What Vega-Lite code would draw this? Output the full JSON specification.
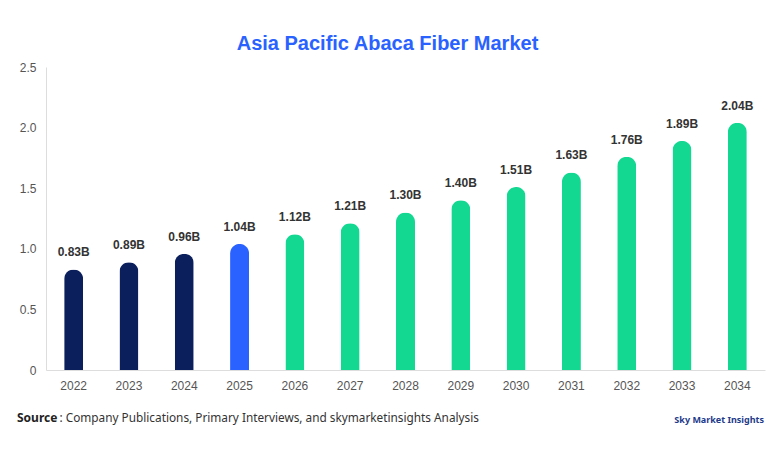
{
  "$schema": "https://vega.github.io/schema/vega-lite/v6.json",
  "width": 719,
  "height": 303,
  "autosize": {"type": "none"},
  "padding": {"left": 46, "top": 67, "right": 17, "bottom": 84},
  "background": "white",
  "config": {"view": {"stroke": null}, "font": "Liberation Sans"},
  "title": {
    "text": "Asia Pacific Abaca Fiber Market",
    "color": "#2962FF",
    "fontSize": 20,
    "fontWeight": "bold",
    "font": "Liberation Sans",
    "anchor": "middle",
    "dx": -18,
    "offset": 7
  },
  "data": {
    "values": [
      {"year": "2022", "value": 0.83, "label": "0.83B", "type": "hist"},
      {"year": "2023", "value": 0.89, "label": "0.89B", "type": "hist"},
      {"year": "2024", "value": 0.96, "label": "0.96B", "type": "hist"},
      {"year": "2025", "value": 1.04, "label": "1.04B", "type": "curr"},
      {"year": "2026", "value": 1.12, "label": "1.12B", "type": "fc"},
      {"year": "2027", "value": 1.21, "label": "1.21B", "type": "fc"},
      {"year": "2028", "value": 1.30, "label": "1.30B", "type": "fc"},
      {"year": "2029", "value": 1.40, "label": "1.40B", "type": "fc"},
      {"year": "2030", "value": 1.51, "label": "1.51B", "type": "fc"},
      {"year": "2031", "value": 1.63, "label": "1.63B", "type": "fc"},
      {"year": "2032", "value": 1.76, "label": "1.76B", "type": "fc"},
      {"year": "2033", "value": 1.89, "label": "1.89B", "type": "fc"},
      {"year": "2034", "value": 2.04, "label": "2.04B", "type": "fc"}
    ]
  },
  "encoding": {
    "x": {
      "field": "year",
      "type": "ordinal",
      "scale": {"paddingInner": 0, "paddingOuter": 0},
      "axis": {
        "title": null,
        "labelAngle": 0,
        "labelColor": "#555555",
        "labelFontSize": 12,
        "labelPadding": 10,
        "ticks": false,
        "domainColor": "#dddddd"
      }
    },
    "y": {
      "field": "value",
      "type": "quantitative",
      "scale": {"domain": [0, 2.5], "nice": false},
      "axis": {
        "title": null,
        "values": [0, 0.5, 1, 1.5, 2, 2.5],
        "labelExpr": "datum.value == 0 ? '0' : format(datum.value, '.1f')",
        "labelColor": "#555555",
        "labelFontSize": 12,
        "labelPadding": 10,
        "ticks": false,
        "grid": false,
        "domainColor": "#dddddd"
      }
    }
  },
  "layer": [
    {
      "mark": {"type": "bar", "width": 19, "cornerRadiusTopLeft": 9.5, "cornerRadiusTopRight": 9.5},
      "encoding": {
        "color": {
          "field": "type",
          "type": "nominal",
          "scale": {"domain": ["hist", "curr", "fc"], "range": ["#0B1F5C", "#2962FF", "#12D892"]},
          "legend": null
        }
      }
    },
    {
      "mark": {"type": "text", "baseline": "bottom", "dy": -10, "fontWeight": "bold", "fontSize": 12, "color": "#333333"},
      "encoding": {"text": {"field": "label"}}
    },
    {
      "data": {"values": [{"year": "2022", "v": -0.4, "t": "Source"}]},
      "mark": {"type": "text", "align": "left", "baseline": "middle", "fontWeight": "bold", "fontSize": 12, "font": "Noto Sans", "color": "#222222", "dx": -29},
      "encoding": {
        "x": {"field": "year", "type": "ordinal", "bandPosition": 0},
        "y": {"field": "v", "type": "quantitative"},
        "text": {"field": "t"}
      }
    },
    {
      "data": {"values": [{"year": "2022", "v": -0.4, "t": ": Company Publications, Primary Interviews, and skymarketinsights Analysis"}]},
      "mark": {"type": "text", "align": "left", "baseline": "middle", "fontSize": 11.8, "font": "Noto Sans", "color": "#333333", "dx": 13.5},
      "encoding": {
        "x": {"field": "year", "type": "ordinal", "bandPosition": 0},
        "y": {"field": "v", "type": "quantitative"},
        "text": {"field": "t"}
      }
    },
    {
      "data": {"values": [{"year": "2034", "v": -0.41, "t": "Sky Market Insights"}]},
      "mark": {"type": "text", "align": "right", "baseline": "middle", "fontSize": 9, "fontWeight": "bold", "font": "Noto Sans", "color": "#1E3A8A", "dx": -1},
      "encoding": {
        "x": {"field": "year", "type": "ordinal", "bandPosition": 1},
        "y": {"field": "v", "type": "quantitative"},
        "text": {"field": "t"}
      }
    }
  ]
}
